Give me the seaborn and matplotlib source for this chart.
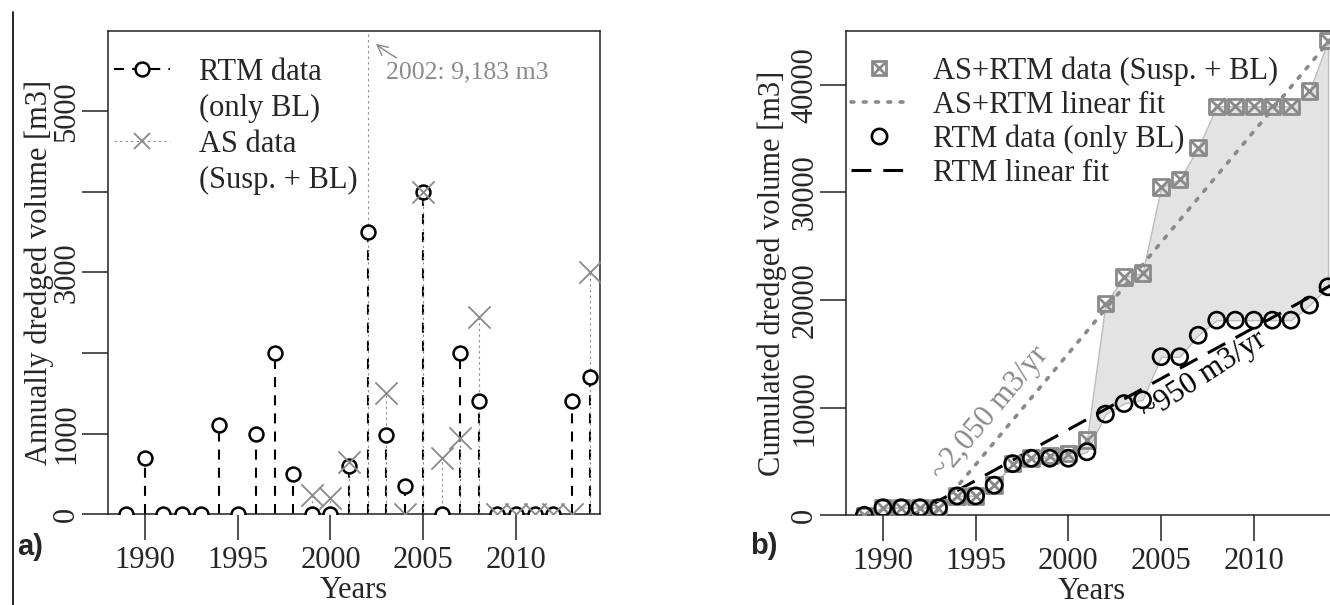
import numpy as np
import pandas as pd
import matplotlib
matplotlib.use("Agg")
import matplotlib.pyplot as plt
import seaborn as sns
from matplotlib.lines import Line2D

# annual dredged volumes [m3]
years = list(range(1989, 2015))
rtm_vol = [0, 700, 0, 0, 0, 1100, 0, 1000, 2000, 500,
           0, 0, 600, 3500, 980, 350, 4000, 0, 2000, 1400,
           0, 0, 0, 0, 1400, 1700]
as_vol = [np.nan] * 10 + [240, 200, 650, 9183, 1500, 0, 4000, 700, 950, 2450,
                          0, 0, 0, 0, 0, 3000]

GRAY = "#8a8a8a"

sns.set_style("ticks")
plt.rcParams["font.family"] = ["Liberation Serif", "DejaVu Serif"]
plt.rcParams["font.size"] = 22
plt.rcParams["axes.linewidth"] = 1.1

df = pd.DataFrame({"year": years, "rtm": rtm_vol, "as": as_vol})
as_df = df.dropna(subset=["as"])
df["as0"] = df["as"].fillna(0)
df["rtm_cum"] = df["rtm"].cumsum()
df["tot_cum"] = (df["rtm"] + df["as0"]).cumsum()

# linear fits of the cumulated series (~2,050 and ~950 m3/yr)
as_fit = np.polyfit(df["year"], df["tot_cum"], 1)
rtm_fit = np.polyfit(df["year"], df["rtm_cum"], 1)

fig = plt.figure(figsize=(13.3, 6.05), dpi=100)
ax1 = fig.add_axes([0.081, 0.1504, 0.3698, 0.7984])
ax2 = fig.add_axes([0.6359, 0.1483, 0.3696, 0.8005])

# ---- panel a: annual volumes
ax1.vlines(df["year"], 0, df["rtm"], colors="black", linestyles=[(0, (4.8, 3.9))], lw=1.5, zorder=2)
ax1.vlines(as_df["year"], 0, as_df["as"], colors=GRAY, linestyles=[(0, (2, 3))], lw=0.8, zorder=2)
sns.scatterplot(data=df, x="year", y="rtm", ax=ax1, marker="o", s=100, facecolor="white",
                edgecolor="black", linewidth=1.8, zorder=3, legend=False)
sns.scatterplot(data=as_df, x="year", y="as", ax=ax1, marker="x", s=16 ** 2, color=GRAY,
                linewidth=1.3, zorder=4, legend=False)
ax1.annotate("2002: 9,183 m3", xy=(2002.45, 5840), xytext=(2003.0, 5490), color=GRAY,
             fontsize=18.5, ha="left", va="center",
             arrowprops=dict(arrowstyle="->", color=GRAY, lw=1, shrinkA=0, shrinkB=0,
                             connectionstyle="arc3,rad=-0.2"))

ax1.set_xlim(1988, 2014.5)
ax1.set_ylim(0, 6000)
ax1.set_xticks([1990, 1995, 2000, 2005, 2010])
ax1.set_yticks([0, 1000, 2000, 3000, 4000, 5000])
ax1.set_yticklabels(["0", "1000", "", "3000", "", "5000"])
ax1.set_xlabel("Years")
ax1.set_ylabel("Annually dredged volume [m3]")

h_rtm = Line2D([], [], color="black", lw=1.5, linestyle=(0, (4.8, 3.9)), marker="o",
               markersize=10, markerfacecolor="white", markeredgewidth=1.8)
h_as = Line2D([], [], color=GRAY, lw=0.8, linestyle=(0, (2, 3)), marker="x",
              markersize=11, markeredgewidth=1.3)
h_none = Line2D([], [], linestyle="none")
ax1.legend([h_rtm, h_none, h_as, h_none],
           ["RTM data", "(only BL)", "AS data", "(Susp. + BL)"],
           loc="upper left", bbox_to_anchor=(0.012, 0.944), frameon=False,
           borderpad=0, borderaxespad=0, handlelength=1.83, handletextpad=0.95,
           labelspacing=0.23, numpoints=1)

# ---- panel b: cumulated volumes
ax2.fill_between(df["year"], df["rtm_cum"], df["tot_cum"], facecolor="#e3e3e3",
                 edgecolor="#bdbdbd", lw=1, zorder=1)
fx = np.array([1988, 2014.5])
sns.lineplot(x=fx, y=np.polyval(as_fit, fx), ax=ax2, color=GRAY, lw=2.6,
             linestyle=(0, (0.8, 2.6)), dash_capstyle="round", zorder=2)
sns.lineplot(x=fx, y=np.polyval(rtm_fit, fx), ax=ax2, color="black", lw=2.2,
             linestyle=(0, (6.5, 3.9)), zorder=2)
sns.scatterplot(data=df, x="year", y="tot_cum", ax=ax2, marker="s", s=125, facecolor="none",
                edgecolor=GRAY, linewidth=2.0, zorder=3, legend=False)
sns.scatterplot(data=df, x="year", y="tot_cum", ax=ax2, marker="x", s=125, color=GRAY,
                linewidth=2.0, zorder=3, legend=False)
sns.scatterplot(data=df, x="year", y="rtm_cum", ax=ax2, marker="o", s=135, facecolor="none",
                edgecolor="black", linewidth=1.9, zorder=4, legend=False)
ax2.text(1995.8, 9480, "~2,050 m3/yr", rotation=50, color=GRAY, ha="center", va="center",
         rotation_mode="anchor")
ax2.text(2007.3, 12900, "~950 m3/yr", rotation=33, color="black", ha="center", va="center",
         rotation_mode="anchor")

ax2.set_xlim(1988, 2014.5)
ax2.set_ylim(0, 45000)
ax2.set_xticks([1990, 1995, 2000, 2005, 2010])
ax2.set_yticks([0, 10000, 20000, 30000, 40000])
ax2.set_xlabel("Years")
ax2.set_ylabel("Cumulated dredged volume [m3]")

h_tot = (Line2D([], [], color=GRAY, marker="s", markersize=10, markerfacecolor="none",
                markeredgewidth=2.0, linestyle="none"),
         Line2D([], [], color=GRAY, marker="x", markersize=10, markeredgewidth=2.0,
                linestyle="none"))
h_asfit = Line2D([], [], color=GRAY, lw=2.6, linestyle=(0, (0.8, 2.6)), dash_capstyle="round")
h_rtmc = Line2D([], [], color="black", marker="o", markersize=11, markerfacecolor="none",
                markeredgewidth=1.9, linestyle="none")
h_rtmfit = Line2D([], [], color="black", lw=2.2, linestyle=(0, (6.5, 3.9)))
ax2.legend([h_tot, h_asfit, h_rtmc, h_rtmfit],
           ["AS+RTM data (Susp. + BL)", "AS+RTM linear fit", "RTM data (only BL)", "RTM linear fit"],
           loc="upper left", bbox_to_anchor=(0.01, 0.948), frameon=False,
           borderpad=0, borderaxespad=0, handlelength=1.83, handletextpad=0.85,
           labelspacing=0.16, numpoints=1)

for ax in (ax1, ax2):
    for s in ax.spines.values():
        s.set_visible(True)
        s.set_color("#222222")
    ax.tick_params(axis="both", length=19, width=1.1, color="#222222", labelsize=22)
    ax.tick_params(axis="x", pad=4)
    ax.tick_params(axis="y", pad=0)
    for lab in ax.get_yticklabels():
        lab.set_rotation(90)
        lab.set_va("center")
    ax.xaxis.set_label_coords(0.5, -0.128)

ax1.yaxis.set_label_coords(-0.109, 0.5)
ax2.yaxis.set_label_coords(-0.12, 0.5)

fig.text(30 / 1330, 1 - 547 / 605, "a)", family="Liberation Sans", weight="bold",
         fontsize=21, ha="center", va="center")
fig.text(764 / 1330, 1 - 546 / 605, "b)", family="Liberation Sans", weight="bold",
         fontsize=21, ha="center", va="center")
fig.add_artist(Line2D([12.5 / 1330] * 2, [0, 1 - 12 / 605], color="black", lw=1.2))

fig.savefig("out.png", dpi=100)
